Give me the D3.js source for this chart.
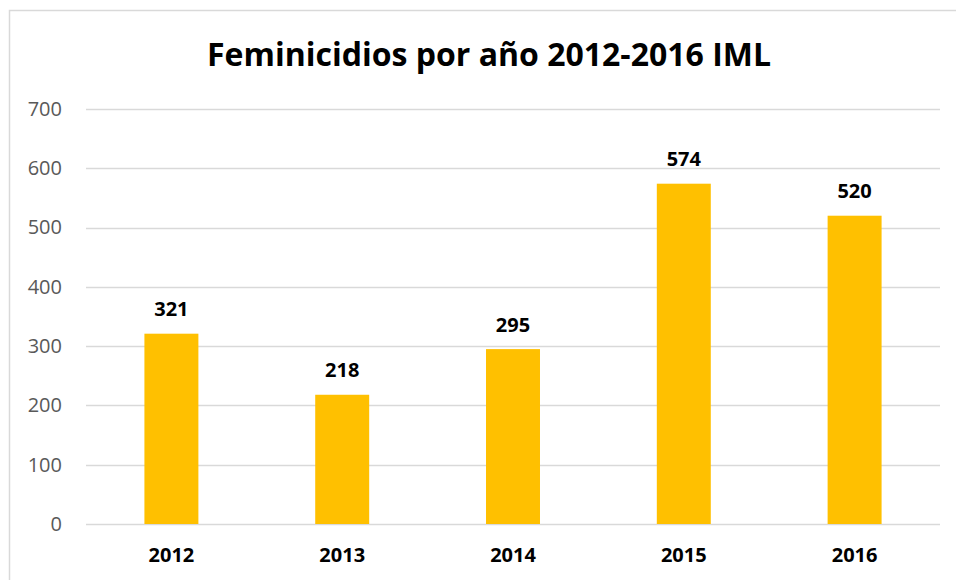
<!DOCTYPE html>
<html>
<head>
<meta charset="utf-8">
<script src="https://cdn.jsdelivr.net/npm/d3@7"></script>
<style>
  body { margin: 0; background: #fff; }
  text { font-family: "Open Sans", Lato, sans-serif; }
</style>
</head>
<body>
<div id="chart"></div>
<script>
// --- data
const years = ["2012", "2013", "2014", "2015", "2016"];
const counts = [321, 218, 295, 574, 520];
const yTicks = [0, 100, 200, 300, 400, 500, 600, 700];

const W = 956, H = 580;
const margin = { top: 109, right: 16, bottom: 56, left: 86 };
const width = W - margin.left - margin.right;
const height = H - margin.top - margin.bottom;

const root = d3.select("#chart")
  .append("svg")
  .attr("width", W)
  .attr("height", H);

// chart frame (cut at right and bottom like the original)
root.append("path")
  .attr("d", `M9.5,${H} V10.5 H${W}`)
  .attr("fill", "none")
  .attr("stroke", "#d9d9d9")
  .attr("stroke-width", 1.5);

root.append("text")
  .attr("x", 489)
  .attr("y", 66)
  .attr("text-anchor", "middle")
  .attr("font-size", "32px")
  .attr("font-weight", "bold")
  .attr("fill", "#000")
  .text("Feminicidios por año 2012-2016 IML");

const svg = root.append("g")
  .attr("transform", `translate(${margin.left},${margin.top})`);

const x = d3.scaleBand().domain(years).range([0, width]).paddingInner(0.684).paddingOuter(0.342);
const y = d3.scaleLinear().domain([0, 700]).range([height, 0]);

// gridlines
svg.append("g")
  .selectAll("line")
  .data(yTicks)
  .join("line")
  .attr("x1", 0)
  .attr("x2", width)
  .attr("y1", d => Math.round(y(d)) + 0.5)
  .attr("y2", d => Math.round(y(d)) + 0.5)
  .attr("stroke", "#d9d9d9")
  .attr("stroke-width", 1.3);

// y axis labels
const yAxis = svg.append("g")
  .call(d3.axisLeft(y).tickValues(yTicks).tickSize(0).tickPadding(24));
yAxis.select(".domain").remove();
yAxis.selectAll("text")
  .attr("font-family", "'Open Sans', sans-serif")
  .attr("font-size", "20px")
  .attr("fill", "#595959");

// bars
svg.selectAll(".bar")
  .data(years.map((d, i) => ({ year: d, value: counts[i] })))
  .join("rect")
  .attr("class", "bar")
  .attr("x", d => x(d.year))
  .attr("y", d => y(d.value))
  .attr("width", x.bandwidth())
  .attr("height", d => height - y(d.value))
  .attr("fill", "#ffc000");

// value labels
svg.selectAll(".val")
  .data(years.map((d, i) => ({ year: d, value: counts[i] })))
  .join("text")
  .attr("class", "val")
  .attr("x", d => x(d.year) + x.bandwidth() / 2)
  .attr("y", d => y(d.value) - 17.5)
  .attr("text-anchor", "middle")
  .attr("font-size", "20px")
  .attr("font-weight", "bold")
  .attr("fill", "#000")
  .text(d => d.value);

// x axis labels
const xAxis = svg.append("g")
  .attr("transform", `translate(0,${height})`)
  .call(d3.axisBottom(x).tickSize(0).tickPadding(24));
xAxis.select(".domain").remove();
xAxis.selectAll("text")
  .attr("font-family", "'Open Sans', sans-serif")
  .attr("font-size", "20px")
  .attr("font-weight", "bold")
  .attr("fill", "#000");
</script>
</body>
</html>
